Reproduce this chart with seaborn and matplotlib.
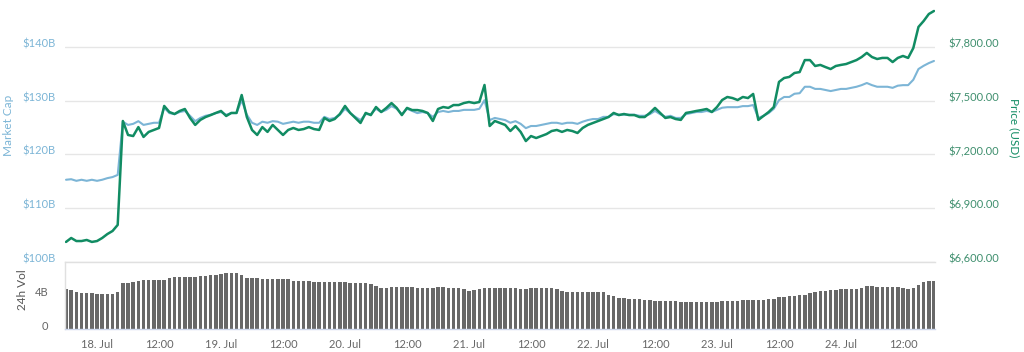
import numpy as np
import pandas as pd
import matplotlib
matplotlib.use("Agg")
import matplotlib.pyplot as plt
import seaborn as sns
from matplotlib.transforms import ScaledTranslation

# hourly samples, 17 Jul 18:00 -> 24 Jul 18:00
price = [
    6712, 6734, 6717, 6717, 6723, 6712, 6717, 6734, 6756, 6773, 6807, 7387,
    7309, 7303, 7353, 7298, 7326, 7337, 7348, 7471, 7437, 7426, 7443, 7454,
    7404, 7365, 7393, 7409, 7420, 7432, 7443, 7415, 7432, 7432, 7532, 7409,
    7337, 7309, 7353, 7326, 7365, 7337, 7309, 7337, 7348, 7337, 7342, 7353,
    7342, 7337, 7404, 7387, 7398, 7426, 7471, 7432, 7404, 7376, 7432, 7420,
    7465, 7437, 7460, 7487, 7460, 7420, 7460, 7448, 7448, 7443, 7432, 7387,
    7454, 7465, 7460, 7476, 7476, 7487, 7493, 7487, 7493, 7588, 7359, 7387,
    7376, 7365, 7331, 7359, 7326, 7275, 7303, 7292, 7303, 7314, 7331, 7337,
    7326, 7337, 7331, 7320, 7348, 7365, 7376, 7387, 7398, 7409, 7432, 7420,
    7426, 7420, 7420, 7409, 7409, 7432, 7460, 7432, 7404, 7409, 7398, 7393,
    7432, 7437, 7443, 7448, 7454, 7437, 7465, 7504, 7521, 7515, 7504, 7521,
    7515, 7538, 7393, 7415, 7437, 7465, 7605, 7627, 7633, 7655, 7660, 7727,
    7727, 7694, 7700, 7688, 7677, 7694, 7700, 7705, 7716, 7727, 7744, 7767,
    7744, 7733, 7739, 7739, 7716, 7739, 7750, 7739, 7794, 7912, 7945, 7984,
    8001,
]

market_cap = [
    115.3, 115.4, 115.1, 115.3, 115.1, 115.3, 115.1, 115.3, 115.6, 115.8, 116.2, 126.1,
    125.5, 125.7, 126.2, 125.5, 125.7, 125.9, 125.9, 128.7, 127.7, 127.5, 127.9, 128.1,
    127.2, 126.2, 126.8, 127.2, 127.4, 127.7, 127.9, 127.4, 127.7, 127.7, 130.1, 127.4,
    125.9, 125.5, 126.1, 125.9, 126.2, 126.1, 125.7, 125.9, 126.1, 125.9, 126.1, 126.1,
    125.9, 125.9, 127.0, 126.6, 126.8, 127.4, 128.5, 127.7, 127.0, 126.4, 127.5, 127.5,
    128.5, 127.9, 128.3, 129.0, 128.5, 127.5, 128.5, 128.1, 127.7, 127.9, 127.7, 127.0,
    127.9, 128.1, 127.9, 128.1, 128.1, 128.3, 128.3, 128.3, 128.5, 130.1, 126.4, 126.8,
    126.6, 126.4, 125.9, 126.2, 125.7, 124.9, 125.3, 125.3, 125.5, 125.7, 125.9, 125.9,
    125.7, 125.9, 125.9, 125.7, 126.1, 126.4, 126.6, 126.6, 127.0, 127.0, 127.5, 127.4,
    127.4, 127.4, 127.4, 127.2, 127.2, 127.5, 128.1, 127.5, 127.0, 127.2, 126.8, 126.8,
    127.5, 127.7, 127.9, 127.9, 128.1, 127.9, 128.3, 128.7, 128.8, 128.8, 128.8, 129.0,
    129.0, 129.2, 126.8, 127.2, 127.7, 128.5, 130.1, 130.7, 130.7, 131.3, 131.4, 132.6,
    132.6, 132.2, 132.2, 132.0, 131.8, 132.0, 132.2, 132.2, 132.4, 132.6, 132.9, 133.3,
    132.9, 132.6, 132.6, 132.6, 132.4, 132.8, 132.9, 132.9, 133.9, 135.9, 136.5, 137.0,
    137.4,
]

volume = [
    4.74, 4.70, 4.45, 4.35, 4.30, 4.25, 4.18, 4.18, 4.20, 4.22, 4.40, 5.45,
    5.55, 5.62, 5.70, 5.89, 5.85, 5.82, 5.82, 5.90, 6.10, 6.15, 6.24, 6.24,
    6.24, 6.24, 6.30, 6.36, 6.40, 6.48, 6.60, 6.69, 6.69, 6.65, 6.40, 6.05,
    6.05, 6.05, 6.02, 6.01, 6.01, 5.98, 5.93, 5.93, 5.77, 5.77, 5.72, 5.68,
    5.65, 5.62, 5.58, 5.60, 5.62, 5.62, 5.60, 5.55, 5.49, 5.45, 5.45, 5.35,
    5.15, 4.93, 4.93, 4.97, 5.01, 5.01, 4.98, 4.98, 4.95, 4.93, 4.93, 4.93,
    4.98, 4.98, 4.92, 4.88, 4.86, 4.75, 4.57, 4.65, 4.80, 4.86, 4.86, 4.88,
    4.88, 4.90, 4.88, 4.85, 4.81, 4.83, 4.86, 4.86, 4.86, 4.86, 4.86, 4.72,
    4.57, 4.45, 4.45, 4.45, 4.45, 4.45, 4.45, 4.45, 4.40, 4.10, 3.95, 3.74,
    3.68, 3.62, 3.58, 3.55, 3.48, 3.42, 3.38, 3.36, 3.34, 3.32, 3.30, 3.28,
    3.27, 3.26, 3.26, 3.26, 3.26, 3.26, 3.26, 3.30, 3.38, 3.38, 3.40, 3.42,
    3.44, 3.46, 3.46, 3.50, 3.55, 3.55, 3.80, 3.88, 3.92, 3.98, 4.02, 4.10,
    4.33, 4.40, 4.50, 4.57, 4.62, 4.70, 4.74, 4.76, 4.78, 4.81, 4.95, 5.13,
    5.10, 5.07, 5.05, 5.05, 5.05, 5.05, 4.95, 4.81, 4.95, 5.30, 5.65, 5.77,
    5.77,
]

hours = np.arange(len(price))  # hours since 17 Jul 18:00

cap_ticks = [100, 110, 120, 130, 140]
cap_labels = ["$100B", "$110B", "$120B", "$130B", "$140B"]
price_ticks = [6600, 6900, 7200, 7500, 7800]
price_labels = ["$6,600.00", "$6,900.00", "$7,200.00", "$7,500.00", "$7,800.00"]
x_labels = ["18. Jul", "12:00", "19. Jul", "12:00", "20. Jul", "12:00", "21. Jul",
            "12:00", "22. Jul", "12:00", "23. Jul", "12:00", "24. Jul", "12:00"]

df = pd.DataFrame({"hour": hours, "price": price, "cap": market_cap, "vol": volume})

blue = "#7cb5d6"
green = "#118c63"
gray_txt = "#666666"

sns.set_style("white")
plt.rcParams["font.family"] = ["Lato", "DejaVu Sans"]

fig = plt.figure(figsize=(10.24, 3.52), dpi=100)
ax = fig.add_axes([65 / 1024, 90 / 352, 870 / 1024, 262 / 352])
ax2 = ax.twinx()
axv = fig.add_axes([65 / 1024, 23 / 352, 870 / 1024, 67 / 352])

# market cap + price
sns.lineplot(data=df, x="hour", y="cap", ax=ax, color=blue, linewidth=1.5)
sns.lineplot(data=df, x="hour", y="price", ax=ax2, color=green, linewidth=1.8)

xlim = (-0.2, 168.2)
ax.set_xlim(*xlim)
ax.set_ylim(100, 148.74)
ax2.set_ylim(6600, 8062.3)

ax.set_yticks(cap_ticks)
ax.set_yticklabels(cap_labels)
ax2.set_yticks(price_ticks)
ax2.set_yticklabels(price_labels)
ax.tick_params(axis="y", length=0, pad=7, labelsize=8, labelcolor=blue)
ax2.tick_params(axis="y", length=0, pad=10, labelsize=8, labelcolor="#3f8f6e")
ax.set_xticks([])
ax.set_xlabel("")
ax.set_ylabel("")
ax2.set_ylabel("")
ax.yaxis.grid(True, color="#e6e6e6", linewidth=1)
for a in (ax, ax2):
    for s in a.spines.values():
        s.set_visible(False)

# labels sit a little above their grid lines
lift = ScaledTranslation(0, 4 / 100, fig.dpi_scale_trans)
for lbl in ax.get_yticklabels() + ax2.get_yticklabels():
    lbl.set_transform(lbl.get_transform() + lift)

fig.text(9 / 1024, 1 - 125 / 352, "Market Cap", rotation=90, color=blue,
         fontsize=8.5, ha="center", va="center")
fig.text(1014 / 1024, 1 - 128 / 352, "Price (USD)", rotation=-90, color=green,
         fontsize=8.5, ha="center", va="center")

# 24h volume bars
sns.histplot(data=df, x="hour", weights="vol", discrete=True,
             shrink=0.66, color="#686868", alpha=1, edgecolor="none", ax=axv)
axv.set_xlim(*xlim)
axv.set_ylim(0, 8)
axv.set_yticks([0, 4])
axv.set_yticklabels(["0", "4B"])
axv.set_ylabel("")
axv.set_xlabel("")
axv.tick_params(axis="y", length=0, pad=12, labelsize=8, labelcolor=gray_txt)
for lbl in axv.get_yticklabels():
    lbl.set_transform(lbl.get_transform() + lift)
axv.set_xticks([6 + 12 * i for i in range(len(x_labels))])
axv.set_xticklabels(x_labels)
axv.tick_params(axis="x", length=5, width=0.8, color="#ccd6eb", labelsize=8,
                labelcolor=gray_txt, pad=2)
axv.spines["right"].set_visible(False)
for s in ("left", "top", "bottom"):
    axv.spines[s].set_color("#e0e0e0")
    axv.spines[s].set_linewidth(1)
axv.spines["bottom"].set_color("#ccd6eb")

fig.text(22 / 1024, 1 - 290 / 352, "24h Vol", rotation=90, color="#555555",
         fontsize=8.5, ha="center", va="center")

fig.savefig("out.png", dpi=100)
